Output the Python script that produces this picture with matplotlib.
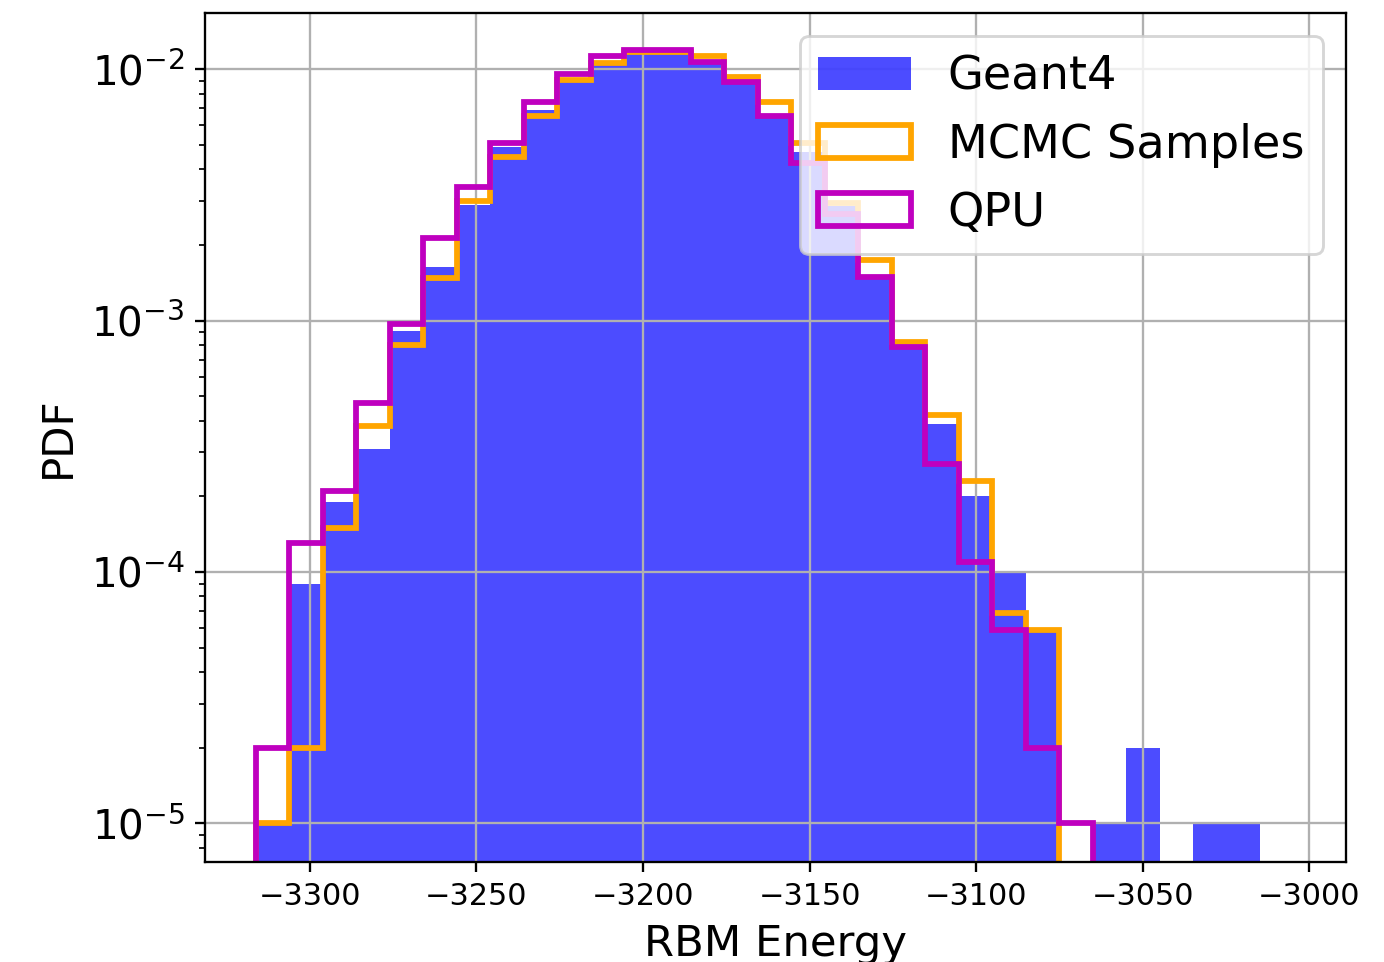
import matplotlib
matplotlib.use("Agg")
import matplotlib.pyplot as plt
import numpy as np

# Histogram binning shared by all three samples (30 bins over the Geant4 range)
BIN_LO = -3316.2
BIN_HI = -3014.8
N_BINS = 30

# Normalised densities per bin (PDF)
geant4_pdf = [
    1.0e-5, 9.0e-5, 1.9e-4, 3.1e-4, 9.1e-4, 1.64e-3, 2.9e-3, 4.9e-3, 6.9e-3, 9.0e-3,
    1.05e-2, 1.16e-2, 1.16e-2, 1.08e-2, 8.9e-3, 6.4e-3, 4.7e-3, 2.85e-3, 1.47e-3, 7.9e-4,
    3.9e-4, 2.0e-4, 1.0e-4, 5.8e-5, 0.0, 1.0e-5, 2.0e-5, 0.0, 1.0e-5, 1.0e-5,
]
mcmc_pdf = [
    1.0e-5, 2.0e-5, 1.5e-4, 3.8e-4, 8.0e-4, 1.48e-3, 3.0e-3, 4.5e-3, 6.5e-3, 9.1e-3,
    1.06e-2, 1.17e-2, 1.17e-2, 1.13e-2, 9.3e-3, 7.4e-3, 5.1e-3, 2.95e-3, 1.74e-3, 8.2e-4,
    4.2e-4, 2.3e-4, 6.9e-5, 5.9e-5, 0.0, 0.0, 0.0, 0.0, 0.0, 0.0,
]
qpu_pdf = [
    2.0e-5, 1.3e-4, 2.1e-4, 4.7e-4, 9.7e-4, 2.14e-3, 3.4e-3, 5.1e-3, 7.4e-3, 9.6e-3,
    1.13e-2, 1.19e-2, 1.19e-2, 1.07e-2, 8.9e-3, 6.5e-3, 4.25e-3, 2.65e-3, 1.5e-3, 7.9e-4,
    2.7e-4, 1.1e-4, 5.9e-5, 2.0e-5, 1.0e-5, 0.0, 0.0, 0.0, 0.0, 0.0,
]

edges = np.linspace(BIN_LO, BIN_HI, N_BINS + 1)
centers = 0.5 * (edges[:-1] + edges[1:])

fig = plt.figure(figsize=(1384 / 208, 962 / 208), dpi=208)
ax = fig.add_axes([0.1481, 0.1040, 0.9725 - 0.1481, 0.9865 - 0.1040])

ax.set_yscale("log")
ax.hist(centers, bins=edges, weights=geant4_pdf, color="blue", alpha=0.7,
        label="Geant4")
ax.hist(centers, bins=edges, weights=mcmc_pdf, histtype="step", color="orange",
        linewidth=2, label="MCMC Samples")
ax.hist(centers, bins=edges, weights=qpu_pdf, histtype="step", color="m",
        linewidth=2, label="QPU")

ax.set_xlim(-3331.5, -2989)
ax.set_ylim(7.03e-6, 1.677e-2)
ax.grid(True)

ax.set_xlabel("RBM Energy", fontsize=15)
ax.set_ylabel("PDF", fontsize=14.5)
ax.tick_params(axis="x", labelsize=10.5)
ax.tick_params(axis="y", labelsize=14)
ax.legend(loc="upper right", fontsize=16)

fig.savefig("out.png", dpi=208)
